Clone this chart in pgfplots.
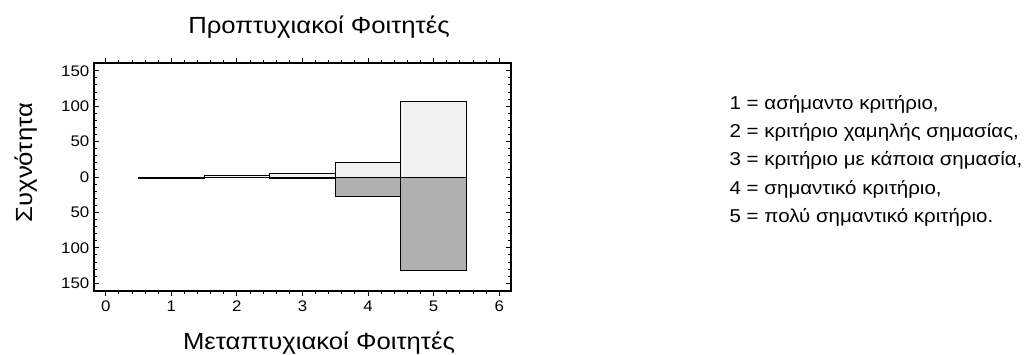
\documentclass[border=0pt]{standalone}
\usepackage{fontspec}
\setmainfont{Liberation Sans}[FakeStretch=1.1]
\usepackage{pgfplots}
\pgfplotsset{compat=1.18}
\definecolor{topc}{HTML}{F2F2F2}
\definecolor{botc}{HTML}{B0B0B0}
\begin{document}
\begin{tikzpicture}
\useasboundingbox (0,0) rectangle (775.5pt,-265.5pt);
\begin{axis}[
  at={(70.5pt,-47.25pt)}, anchor=north west,
  scale only axis, width=312.75pt, height=171pt,
  xmin=-0.18, xmax=6.18, ymin=-161, ymax=161,
  xtick={0,1,...,6}, minor x tick num=4,
  ytick={-150,-100,-50,0,50,100,150},
  yticklabels={150,100,50,0,50,100,150},
  minor y tick num=4,
  major tick length=3.75pt, minor tick length=2pt,
  tick style={black, line width=0.7pt},
  axis line style={line width=1.3pt},
  ticklabel style={font=\fontsize{11.5}{13}\selectfont},
  /pgf/number format/assume math mode=true,
  ybar, bar width=1,
]
\addplot[ybar, bar shift=0pt, fill=topc, draw=black, line width=0.7pt] coordinates {(1,0) (2,2) (3,5) (4,20) (5,107)};
\addplot[ybar, bar shift=0pt, fill=botc, draw=black, line width=0.7pt] coordinates {(1,-2) (2,0) (3,-2) (4,-27) (5,-132)};
\end{axis}
\node[anchor=base, font=\fontsize{17.5}{20}\selectfont] at (239.25pt,-25pt) {Προπτυχιακοί Φοιτητές};
\node[anchor=base, font=\fontsize{17.5}{20}\selectfont, rotate=90] at (24pt,-122pt) {Συχνότητα};
\node[anchor=base, font=\fontsize{17.5}{20}\selectfont] at (239.25pt,-262pt) {Μεταπτυχιακοί Φοιτητές};
\begin{scope}[every node/.style={anchor=base west, font=\fontsize{14}{16}\selectfont, inner sep=0pt}]
\node at (547pt,-81.75pt) {1 = ασήμαντο κριτήριο,};
\node at (547pt,-103.1pt) {2 = κριτήριο χαμηλής σημασίας,};
\node at (547pt,-124.1pt) {3 = κριτήριο με κάποια σημασία,};
\node at (547pt,-145.5pt) {4 = σημαντικό κριτήριο,};
\node at (547pt,-166.5pt) {5 = πολύ σημαντικό κριτήριο.};
\end{scope}
\end{tikzpicture}
\end{document}
